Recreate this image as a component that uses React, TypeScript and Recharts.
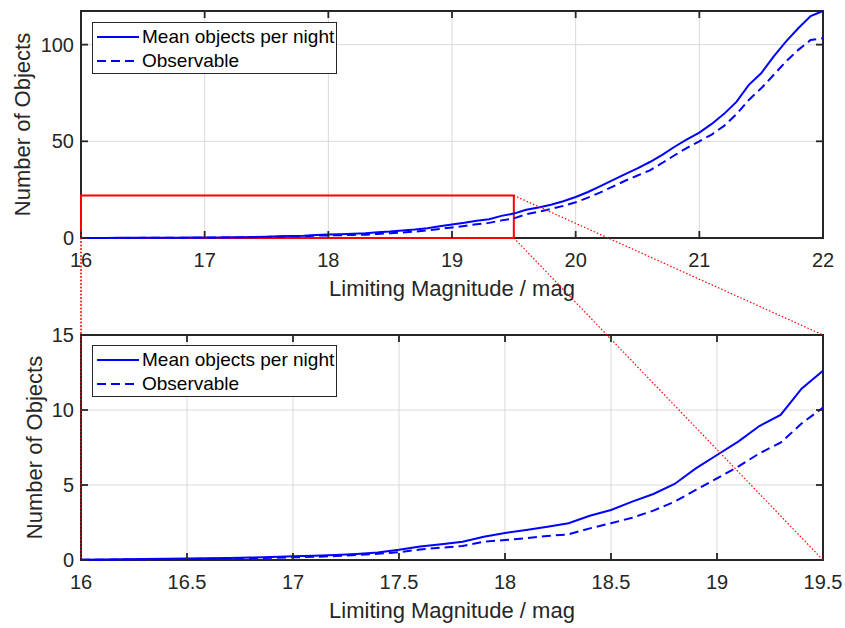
import React from "react";
import {
  LineChart,
  Line,
  XAxis,
  YAxis,
  CartesianGrid,
  ReferenceArea,
  Legend,
  Label,
} from "recharts";

// limiting magnitude samples (mag)
const magnitudes = [
  16.0, 16.1, 16.2, 16.3, 16.4, 16.5, 16.6, 16.7, 16.8, 16.9,
  17.0, 17.1, 17.2, 17.3, 17.4, 17.5, 17.6, 17.7, 17.8, 17.9,
  18.0, 18.1, 18.2, 18.3, 18.4, 18.5, 18.6, 18.7, 18.8, 18.9,
  19.0, 19.1, 19.2, 19.3, 19.4, 19.5, 19.6, 19.7, 19.8, 19.9,
  20.0, 20.1, 20.2, 20.3, 20.4, 20.5, 20.6, 20.7, 20.8, 20.9,
  21.0, 21.1, 21.2, 21.3, 21.4, 21.5, 21.6, 21.7, 21.8, 21.9,
  22.0,
];

const meanPerNight = [
  0.02, 0.03, 0.05, 0.07, 0.08, 0.1, 0.11, 0.13, 0.16, 0.2,
  0.25, 0.28, 0.33, 0.4, 0.5, 0.68, 0.9, 1.05, 1.22, 1.55,
  1.8, 2.0, 2.22, 2.45, 2.95, 3.33, 3.89, 4.4, 5.07, 6.11,
  7.0, 7.89, 8.93, 9.67, 11.44, 12.62, 14.6, 15.8, 17.2, 19.0,
  21.2, 23.8, 26.8, 29.9, 33.0, 36.0, 39.3, 43.0, 47.2, 51.0,
  54.5, 59.0, 64.2, 70.4, 79.2, 85.2, 93.8, 101.6, 108.5, 114.8,
  117.4,
];

const observable = [
  0.01, 0.02, 0.03, 0.04, 0.05, 0.07, 0.08, 0.1, 0.12, 0.15,
  0.18, 0.21, 0.26, 0.33, 0.42, 0.52, 0.7, 0.82, 0.93, 1.22,
  1.33, 1.45, 1.6, 1.71, 2.11, 2.45, 2.82, 3.29, 3.89, 4.67,
  5.44, 6.22, 7.11, 7.82, 9.11, 10.16, 12.3, 13.6, 15.0, 16.6,
  18.5, 20.9, 23.6, 26.6, 29.6, 32.3, 35.0, 38.8, 42.8, 46.6,
  50.0, 53.5, 58.0, 64.0, 71.4, 77.4, 84.3, 91.2, 97.3, 102.4,
  103.3,
];

const topXTicks = [16, 17, 18, 19, 20, 21, 22];
const topYTicks = [0, 50, 100];
const zoomXTicks = [16, 16.5, 17, 17.5, 18, 18.5, 19, 19.5];
const zoomYTicks = [0, 5, 10, 15];
const zoomBox = { x1: 16, x2: 19.5, y1: 0, y2: 22 };

const SERIES = [
  { key: "mean", name: "Mean objects per night", dash: undefined as string | undefined },
  { key: "obs", name: "Observable", dash: "9 5" },
];

const FONT = '"Liberation Sans", Arial, Helvetica, sans-serif';
const AXIS = "#262626";
const BLUE = "#0000ff";
const W = 845;
const TICK_LEN = 7;

const rows = magnitudes.map((m, i) => ({ mag: m, mean: meanPerNight[i], obs: observable[i] }));
const zoomRows = rows.filter((r) => r.mag <= zoomBox.x2 + 1e-9);

// plot frames in page pixels
const topFrame = { left: 81, right: 823, top: 11, bottom: 238, xd: [16, 22], yd: [0, Math.max(...meanPerNight)] };
const botFrame = { left: 81, right: 823, top: 335, bottom: 560, xd: [16, 19.5], yd: [0, 15] };

type Frame = typeof topFrame;
const toPx = (f: Frame, x: number, y: number) => ({
  x: f.left + ((x - f.xd[0]) / (f.xd[1] - f.xd[0])) * (f.right - f.left),
  y: f.bottom - ((y - f.yd[0]) / (f.yd[1] - f.yd[0])) * (f.bottom - f.top),
});

const LegendBox = () => (
  <div
    style={{
      width: 245,
      height: 52,
      boxSizing: "border-box",
      border: `1.5px solid ${AXIS}`,
      background: "#fff",
      fontFamily: FONT,
      fontSize: 19,
      color: "#000",
      padding: "2px 0 0 4px",
    }}
  >
    {SERIES.map((s) => (
      <div key={s.key} style={{ display: "flex", alignItems: "center", height: 24 }}>
        <svg width={42} height={10} style={{ flex: "none" }}>
          <line x1={0} y1={5} x2={42} y2={5} stroke={BLUE} strokeWidth={2} strokeDasharray={s.dash} />
        </svg>
        <span style={{ marginLeft: 3, lineHeight: "24px", whiteSpace: "nowrap" }}>{s.name}</span>
      </div>
    ))}
  </div>
);

type PanelProps = {
  data: typeof rows;
  frame: Frame;
  chartTop: number;
  height: number;
  xTicks: number[];
  yTicks: number[];
  yLabelX: number;
  legendTop: number;
  showBox?: boolean;
};

function Panel({ data, frame, chartTop, height, xTicks, yTicks, yLabelX, legendTop, showBox }: PanelProps) {
  const xAxisH = 60;
  const top = frame.top - chartTop;
  const bottom = frame.bottom - chartTop;
  const margin = {
    top,
    right: W - frame.right,
    left: 0,
    bottom: height - bottom - xAxisH,
  };
  const txt = { fill: AXIS, fontSize: 20, fontFamily: FONT };

  // MATLAB-style inward ticks on both sides of the box
  const xTick = (p: any) => (
    <g>
      <line x1={p.x} x2={p.x} y1={bottom} y2={bottom - TICK_LEN} stroke={AXIS} strokeWidth={1.8} />
      <line x1={p.x} x2={p.x} y1={top} y2={top + TICK_LEN} stroke={AXIS} strokeWidth={1.8} />
      <text x={p.x} y={bottom + 15} dy="0.71em" textAnchor="middle" {...txt}>
        {p.payload.value}
      </text>
    </g>
  );
  const yTick = (p: any) => (
    <g>
      <line x1={frame.left} x2={frame.left + TICK_LEN} y1={p.y} y2={p.y} stroke={AXIS} strokeWidth={1.8} />
      <line x1={frame.right} x2={frame.right - TICK_LEN} y1={p.y} y2={p.y} stroke={AXIS} strokeWidth={1.8} />
      <text x={frame.left - 7} y={p.y} dy="0.355em" textAnchor="end" {...txt}>
        {p.payload.value}
      </text>
    </g>
  );

  return (
    <div style={{ position: "absolute", left: 0, top: chartTop }}>
      <LineChart width={W} height={height} data={data} margin={margin}>
        <CartesianGrid stroke="#d9d9d9" strokeWidth={1} />
        <XAxis
          type="number"
          dataKey="mag"
          domain={frame.xd}
          ticks={xTicks}
          interval={0}
          height={xAxisH}
          axisLine={false}
          tickLine={false}
          tick={xTick}
        >
          <Label
            value="Limiting Magnitude / mag"
            position="insideBottom"
            offset={2}
            style={{ fontSize: 22, fontFamily: FONT, fill: AXIS }}
          />
        </XAxis>
        <YAxis
          type="number"
          domain={frame.yd}
          ticks={yTicks}
          interval={0}
          width={frame.left}
          axisLine={false}
          tickLine={false}
          tick={yTick}
        >
          <Label
            value="Number of Objects"
            angle={-90}
            position="insideLeft"
            offset={yLabelX}
            style={{ fontSize: 22, fontFamily: FONT, fill: AXIS, textAnchor: "middle" }}
          />
        </YAxis>
        {SERIES.map((s) => (
          <Line
            key={s.key}
            type="linear"
            dataKey={s.key}
            name={s.name}
            stroke={BLUE}
            strokeWidth={2}
            strokeDasharray={s.dash}
            dot={false}
            activeDot={false}
            isAnimationActive={false}
          />
        ))}
        <ReferenceArea
          x1={frame.xd[0]}
          x2={frame.xd[1]}
          y1={frame.yd[0]}
          y2={frame.yd[1]}
          fill="none"
          fillOpacity={0}
          stroke={AXIS}
          strokeWidth={2}
        />
        {showBox && (
          <ReferenceArea
            x1={zoomBox.x1}
            x2={zoomBox.x2}
            y1={zoomBox.y1}
            y2={zoomBox.y2}
            fill="none"
            fillOpacity={0}
            stroke="#ff0000"
            strokeWidth={2}
          />
        )}
        <Legend
          layout="vertical"
          align="center"
          verticalAlign="middle"
          content={() => <LegendBox />}
          wrapperStyle={{ left: 92, top: legendTop, width: 245, height: 52 }}
        />
      </LineChart>
    </div>
  );
}

function Connectors() {
  const pairs: [number, number, number, number][] = [
    [zoomBox.x1, zoomBox.y1, botFrame.xd[0], botFrame.yd[0]],
    [zoomBox.x1, zoomBox.y2, botFrame.xd[0], botFrame.yd[1]],
    [zoomBox.x2, zoomBox.y2, botFrame.xd[1], botFrame.yd[1]],
    [zoomBox.x2, zoomBox.y1, botFrame.xd[1], botFrame.yd[0]],
  ];
  return (
    <svg width={W} height={628} style={{ position: "absolute", left: 0, top: 0, pointerEvents: "none" }}>
      {pairs.map(([ax, ay, bx, by], i) => {
        const a = toPx(topFrame, ax, ay);
        const b = toPx(botFrame, bx, by);
        return (
          <line key={i} x1={a.x} y1={a.y} x2={b.x} y2={b.y} stroke="#ff0000" strokeWidth={1.2} strokeDasharray="1.5 2" />
        );
      })}
    </svg>
  );
}

export default function App() {
  return (
    <div style={{ position: "absolute", left: 0, top: 0, width: W, height: 628, background: "#fff" }}>
      <Panel
        data={rows}
        frame={topFrame}
        chartTop={0}
        height={320}
        xTicks={topXTicks}
        yTicks={topYTicks}
        yLabelX={22}
        legendTop={22}
        showBox
      />
      <Panel
        data={zoomRows}
        frame={botFrame}
        chartTop={320}
        height={308}
        xTicks={zoomXTicks}
        yTicks={zoomYTicks}
        yLabelX={34}
        legendTop={25}
      />
      <Connectors />
    </div>
  );
}
